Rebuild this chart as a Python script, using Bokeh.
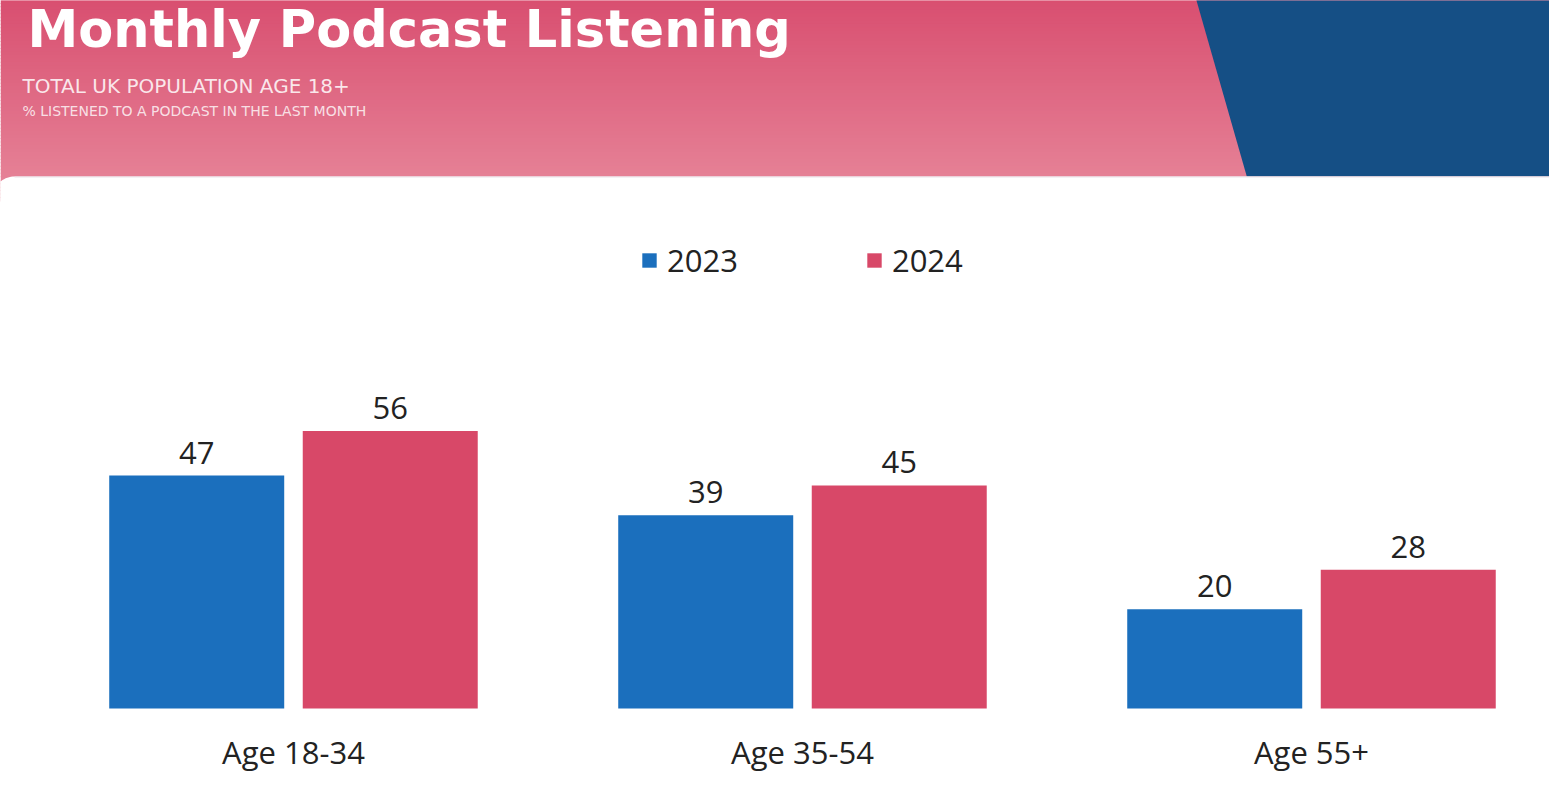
import numpy as np
from bokeh.plotting import figure
from bokeh.models import Range1d, ColumnDataSource, Legend, LegendItem
from bokeh.transform import dodge
from bokeh.core.properties import value
from bokeh.embed import file_html
from bokeh.resources import INLINE

# ---- data ----
categories = ["Age 18-34", "Age 35-54", "Age 55+"]
series_names = ["2023", "2024"]
values_2023 = [47, 39, 20]
values_2024 = [56, 45, 28]

title_text = "Monthly Podcast Listening"
subtitle_1 = "TOTAL UK POPULATION AGE 18+"
subtitle_2 = "% LISTENED TO A PODCAST IN THE LAST MONTH"

# ---- layout constants ----
W, H = 1549, 787
BLUE = "#1B6FBD"
RED = "#D84868"
NAVY = "#154F85"
FONT = "Open Sans"

src = ColumnDataSource(dict(
    cat=categories,
    idx=list(range(len(categories))),
    v2023=values_2023,
    v2024=values_2024,
    l2023=[str(v) for v in values_2023],
    l2024=[str(v) for v in values_2024],
))

p = figure(width=W, height=H, output_backend="svg", toolbar_location=None,
           x_range=Range1d(-0.5756, 2.4676), y_range=Range1d(-15.937, 142.83),
           x_axis_location=None, y_axis_location=None, min_border=0,
           outline_line_color=None, background_fill_color="white",
           border_fill_color="white")
p.grid.visible = False
p.extra_x_ranges = {"px": Range1d(0, W)}
p.extra_y_ranges = {"py": Range1d(H, 0)}

# ---- header decoration (pixel space) ----
n = 60
edges = np.linspace(-8, 200, n + 1)
c0 = np.array([216, 77, 111])
c1 = np.array([231, 135, 154])
cols = []
for k in range(n):
    t = k / (n - 1)
    c = (c0 + (c1 - c0) * t).round().astype(int)
    cols.append("#%02x%02x%02x" % tuple(c))
p.quad(left=0, right=W, top=edges[:-1], bottom=edges[1:] + 1.0, fill_color=cols,
       line_color=None, x_range_name="px", y_range_name="py")

p.patch(x=[1193.7, W, W, 1246.3], y=[-8, -8, 176, 176], fill_color=NAVY,
        line_color=None, x_range_name="px", y_range_name="py")

cx, cy, r = 14, 198, 22
ang = np.linspace(0, np.pi / 2, 20)
ax = list(cx - r * np.cos(ang))
ay = list(cy - r * np.sin(ang))
p.patch(x=ax + [W, W, -8], y=ay + [176, H, H], fill_color="white", line_color=None,
        x_range_name="px", y_range_name="py")
p.line(x=[14, W], y=[176.5, 176.5], line_color="#E9E4EA", line_width=1,
       x_range_name="px", y_range_name="py")

p.text(x=[27], y=[29], text=[title_text], text_font=value("DejaVu Sans"),
       text_font_style="bold", text_font_size="51px", text_color="white",
       text_baseline="alphabetic", x_range_name="px", y_range_name="py")
p.text(x=[22], y=[85], text=[subtitle_1], text_font=value("DejaVu Sans"),
       text_font_size="20px", text_color="white", text_alpha=0.85,
       text_baseline="alphabetic", x_range_name="px", y_range_name="py")
p.text(x=[22], y=[110], text=[subtitle_2], text_font=value("DejaVu Sans"),
       text_font_size="14px", text_color="white", text_alpha=0.8,
       text_baseline="alphabetic", x_range_name="px", y_range_name="py")

# ---- bars ----
off, bw = 0.1901, 0.3438
r1 = p.vbar(x=dodge("idx", -off, range=p.x_range), top="v2023", bottom=0, width=bw,
            source=src, fill_color=BLUE, line_color=None)
r2 = p.vbar(x=dodge("idx", off, range=p.x_range), top="v2024", bottom=0, width=bw,
            source=src, fill_color=RED, line_color=None)

lab = dict(text_font=value(FONT), text_font_size="31px", text_color="#222222",
           text_align="center", text_baseline="alphabetic")
p.text(x=dodge("idx", -off, range=p.x_range), y="v2023", text="l2023", y_offset=-23,
       source=src, **lab)
p.text(x=dodge("idx", off, range=p.x_range), y="v2024", text="l2024", y_offset=-23,
       source=src, **lab)
p.text(x="idx", y=0, text="cat", y_offset=43, source=src, **lab)

legend = Legend(items=[LegendItem(label=series_names[0], renderers=[r1]),
                       LegendItem(label=series_names[1], renderers=[r2])],
                orientation="horizontal", location=(640, 506), padding=0, margin=0,
                spacing=127, glyph_width=18, glyph_height=18, label_standoff=9,
                label_height=40, label_text_font=FONT, label_text_font_size="31px",
                label_text_color="#222222", label_text_baseline="middle",
                border_line_color=None, background_fill_alpha=0)
p.add_layout(legend, "center")

open("out.html", "w").write(file_html(p, INLINE))
